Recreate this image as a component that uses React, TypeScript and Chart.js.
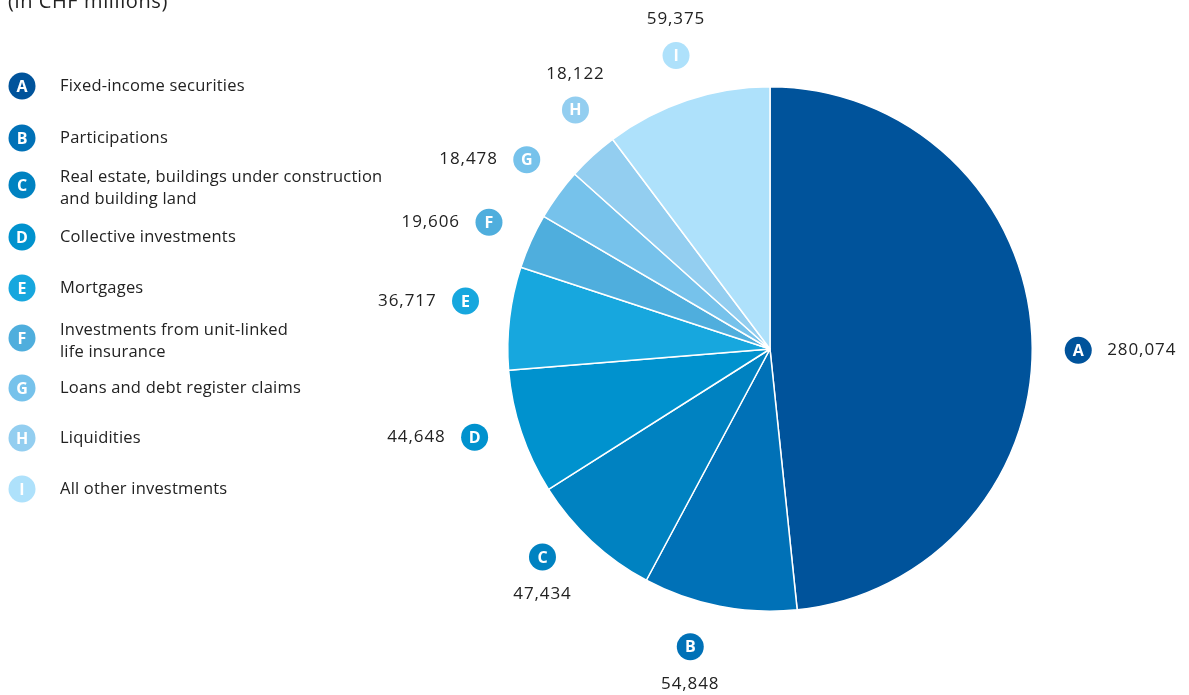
import { useEffect, useRef } from "react";
import { Chart, registerables } from "chart.js";

Chart.register(...registerables);

const letters = ["A", "B", "C", "D", "E", "F", "G", "H", "I"];
const categories = [
  "Fixed-income securities",
  "Participations",
  "Real estate, buildings under construction\nand building land",
  "Collective investments",
  "Mortgages",
  "Investments from unit-linked\nlife insurance",
  "Loans and debt register claims",
  "Liquidities",
  "All other investments",
];
const values = [280074, 54848, 47434, 44648, 36717, 19606, 18478, 18122, 59375];
const valueLabels = ["280,074", "54,848", "47,434", "44,648", "36,717", "19,606", "18,478", "18,122", "59,375"];
const colors = ["#00539B", "#0071B7", "#0082C1", "#0092CE", "#17A7DE", "#4FAEDD", "#76C2EB", "#93CEF0", "#AEE1FB"];
const subtitle = "(in CHF millions)";

const FONT = "'Open Sans', 'Noto Sans', sans-serif";
const TEXT_COLOR = "#222222";
// layout: legend row centres and small angular nudges of the slice badges (degrees)
const LEGEND_ROWS = [86, 138, 185, 237, 288, 338, 388, 438, 489];
const BADGE_SHIFT = [3.2, 3.9, 4.7, 1.9, 2.2, 0, 1.8, 3.4, 0.7];

function drawBadge(ctx: CanvasRenderingContext2D, x: number, y: number, color: string, letter: string) {
  ctx.beginPath();
  ctx.arc(x, y, 13.5, 0, Math.PI * 2);
  ctx.fillStyle = color;
  ctx.fill();
  ctx.fillStyle = "#ffffff";
  (ctx as any).letterSpacing = "0px";
  ctx.font = `bold 16px ${FONT}`;
  ctx.textAlign = "center";
  ctx.textBaseline = "middle";
  ctx.fillText(letter, x, y + 1);
}

const labelsPlugin = {
  id: "customLabels",
  afterDraw(chart: any) {
    const ctx: CanvasRenderingContext2D = chart.ctx;
    ctx.save();
    // subtitle (cut at top)
    ctx.fillStyle = TEXT_COLOR;
    (ctx as any).letterSpacing = "0.6px";
    ctx.font = `20px ${FONT}`;
    ctx.textAlign = "left";
    ctx.textBaseline = "alphabetic";
    ctx.fillText(subtitle, 8, 8);

    // legend
    categories.forEach((cat, i) => {
      const by = LEGEND_ROWS[i];
      drawBadge(ctx, 22, by, colors[i], letters[i]);
      const lines = cat.split("\n");
      ctx.fillStyle = TEXT_COLOR;
      (ctx as any).letterSpacing = "0.2px";
      ctx.font = `16.5px ${FONT}`;
      ctx.textAlign = "left";
      ctx.textBaseline = "middle";
      if (lines.length === 1) {
        ctx.fillText(lines[0], 60, by);
      } else {
        ctx.fillText(lines[0], 60, by - 8);
        ctx.fillText(lines[1], 60, by + 14);
      }
    });

    // slice labels
    const meta = chart.getDatasetMeta(0);
    meta.data.forEach((arc: any, i: number) => {
      const { x, y, startAngle, endAngle, outerRadius } = arc.getProps(
        ["x", "y", "startAngle", "endAngle", "outerRadius"],
        true
      );
      const mid = (startAngle + endAngle) / 2 + (BADGE_SHIFT[i] * Math.PI) / 180;
      const r = outerRadius + 46;
      const bx = x + Math.cos(mid) * r;
      const by = y + Math.sin(mid) * r;
      drawBadge(ctx, bx, by, colors[i], letters[i]);
      ctx.fillStyle = TEXT_COLOR;
      (ctx as any).letterSpacing = "0.9px";
      ctx.font = `17px ${FONT}`;
      ctx.textBaseline = "middle";
      const s = Math.sin(mid);
      const c = Math.cos(mid);
      if (Math.abs(s) > 0.64) {
        ctx.textAlign = "center";
        ctx.fillText(valueLabels[i], bx, s > 0 ? by + 37 : by - 36);
      } else if (c > 0) {
        ctx.textAlign = "left";
        ctx.fillText(valueLabels[i], bx + 29, by);
      } else {
        ctx.textAlign = "right";
        ctx.fillText(valueLabels[i], bx - 29, by);
      }
    });
    ctx.restore();
  },
};

export default function App() {
  const canvasRef = useRef<HTMLCanvasElement | null>(null);

  useEffect(() => {
    if (!canvasRef.current) return;
    const chart = new Chart(canvasRef.current, {
      type: "pie",
      data: {
        labels: categories.map((c) => c.replace("\n", " ")),
        datasets: [
          {
            data: values,
            backgroundColor: colors,
            borderColor: "#ffffff",
            borderWidth: 1.5,
          },
        ],
      },
      options: {
        animation: false,
        responsive: true,
        maintainAspectRatio: false,
        layout: { padding: { left: 507, right: 156, top: 86, bottom: 83 } },
        plugins: {
          legend: { display: false },
          tooltip: { enabled: false },
        },
      },
      plugins: [labelsPlugin],
    });
    return () => chart.destroy();
  }, []);

  return (
    <div style={{ position: "absolute", left: 0, top: 0, width: 1189, height: 695, background: "#ffffff" }}>
      <canvas ref={canvasRef} />
    </div>
  );
}
